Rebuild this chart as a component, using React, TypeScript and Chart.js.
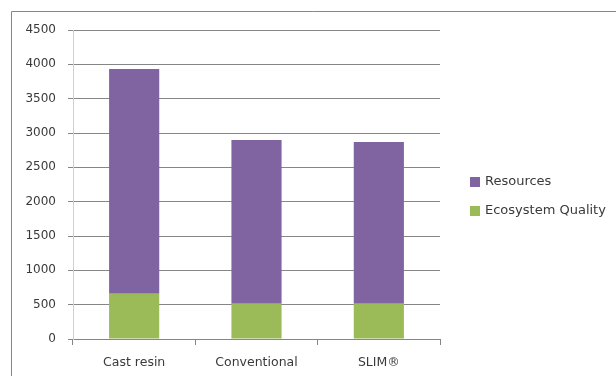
import React, { useEffect, useRef } from "react";
import { Chart, registerables } from "chart.js";

Chart.register(...registerables);

const categories = ["Cast resin", "Conventional", "SLIM®"];
const resources = [3272, 2384, 2355];
const ecosystemQuality = [660, 514, 514];
const yTicks = [0, 500, 1000, 1500, 2000, 2500, 3000, 3500, 4000, 4500];

const PURPLE = "#8064A2";
const GREEN = "#9BBB59";
const FONT = "'DejaVu Sans', sans-serif";
const TEXT = "#3a3a3a";

export default function App() {
  const ref = useRef<HTMLCanvasElement | null>(null);

  useEffect(() => {
    if (!ref.current) return;
    const framePlugin = {
      id: "frame",
      afterDraw(chart: any) {
        const ctx = chart.ctx;
        ctx.save();
        ctx.strokeStyle = "#868686";
        ctx.lineWidth = 1;
        ctx.beginPath();
        ctx.moveTo(11.5, 400);
        ctx.lineTo(11.5, 11.5);
        ctx.lineTo(616, 11.5);
        ctx.stroke();
        // legend
        const items = [...chart.data.datasets].reverse();
        ctx.font = `13px ${FONT}`;
        ctx.textBaseline = "middle";
        ctx.textAlign = "left";
        items.forEach((ds: any, i: number) => {
          const y = 182 + i * 29;
          ctx.fillStyle = ds.backgroundColor;
          ctx.fillRect(470, y - 5, 10, 10);
          ctx.fillStyle = TEXT;
          ctx.fillText(ds.label, 485, y);
        });
        ctx.restore();
      },
    };
    const chart = new Chart(ref.current, {
      type: "bar",
      data: {
        labels: categories,
        datasets: [
          {
            label: "Ecosystem Quality",
            data: ecosystemQuality,
            backgroundColor: GREEN,
            categoryPercentage: 1,
            barPercentage: 0.41,
          },
          {
            label: "Resources",
            data: resources,
            backgroundColor: PURPLE,
            categoryPercentage: 1,
            barPercentage: 0.41,
          },
        ],
      },
      options: {
        responsive: false,
        animation: false,
        maintainAspectRatio: false,
        layout: { padding: { left: 0, top: 30, right: 176, bottom: 0 } },
        plugins: {
          legend: { display: false },
          tooltip: { enabled: false },
        },
        scales: {
          x: {
            stacked: true,
            offset: true,
            afterFit: (s: any) => {
              s.height = 37;
            },
            grid: {
              offset: true,
              drawOnChartArea: false,
              drawTicks: true,
              tickLength: 6,
              color: "#868686",
            },
            border: { display: false },
            ticks: {
              color: TEXT,
              font: { family: FONT, size: 12.5 },
              padding: 10,
              maxRotation: 0,
            },
          },
          y: {
            stacked: true,
            min: 0,
            max: 4500,
            afterFit: (s: any) => {
              s.width = 73;
            },
            afterBuildTicks: (s: any) => {
              s.ticks = yTicks.map((v) => ({ value: v }));
            },
            grid: {
              color: "#868686",
              tickLength: 5,
              drawTicks: true,
            },
            border: { display: true, color: "#d0d0d0", width: 1 },
            ticks: {
              color: TEXT,
              font: { family: FONT, size: 12 },
              padding: 12,
              callback: (v: any) => String(v),
            },
          },
        },
      },
      plugins: [framePlugin],
    });
    return () => chart.destroy();
  }, []);

  return (
    <div style={{ position: "fixed", left: 0, top: 0, width: 616, height: 376, background: "#fff" }}>
      <canvas ref={ref} width={616} height={376} style={{ width: 616, height: 376, display: "block" }} />
    </div>
  );
}
